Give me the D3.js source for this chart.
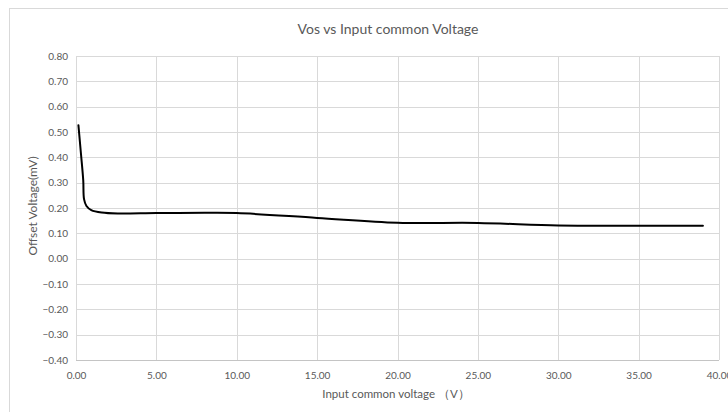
<!DOCTYPE html>
<html>
<head>
<meta charset="utf-8">
<script src="https://cdn.jsdelivr.net/npm/d3@7/dist/d3.min.js"></script>
<style>
  html, body { margin: 0; padding: 0; background: #ffffff; }
  svg { display: block; }
  text { font-family: Lato, "Open Sans", sans-serif; }
</style>
</head>
<body>
<script>
// ---- data ----
const titleText = "Vos vs Input common Voltage";
const xTitle = "Input common voltage （V）";
const yTitle = "Offset Voltage(mV)";
const xTicks = [0, 5, 10, 15, 20, 25, 30, 35, 40];
const yTicks = [-0.4, -0.3, -0.2, -0.1, 0, 0.1, 0.2, 0.3, 0.4, 0.5, 0.6, 0.7, 0.8];
const vcm = [0.15, 0.3, 0.45, 0.5, 0.65, 0.95, 1.6, 2.6, 5, 8, 10, 15, 20, 25, 30, 35, 39];
const vos = [0.527, 0.42, 0.31, 0.235, 0.208, 0.192, 0.182, 0.178, 0.18, 0.181, 0.18, 0.161, 0.142, 0.141, 0.131, 0.13, 0.13];

const W = 728, H = 412;
const svg = d3.select("body").append("svg").attr("width", W).attr("height", H);
svg.append("rect").attr("width", W).attr("height", H).attr("fill", "#fff");

// chart frame
svg.append("rect").attr("x", 9.5).attr("y", 8.5).attr("width", 740).attr("height", 420)
  .attr("fill", "none").attr("stroke", "#d9d9d9").attr("stroke-width", 1);

const x = d3.scaleLinear().domain([0, 40]).range([76, 719]);
const y = d3.scaleLinear().domain([-0.4, 0.8]).range([360, 56]);

// gridlines via axes
const gy = svg.append("g").attr("transform", `translate(${x(0)},0)`)
  .call(d3.axisLeft(y).tickValues(yTicks).tickSize(-(x(40) - x(0))).tickFormat(d3.format(".2f")).tickPadding(8));
gy.select(".domain").remove();
gy.selectAll("line").attr("stroke", "#d9d9d9").attr("shape-rendering", "crispEdges");
gy.selectAll("text").attr("fill", "#595959").style("font-size", "10px");

const gx = svg.append("g").attr("transform", `translate(0,${y(-0.4)})`)
  .call(d3.axisBottom(x).tickValues(xTicks).tickSize(-(y(-0.4) - y(0.8))).tickFormat(d3.format(".2f")).tickPadding(12));
gx.select(".domain").remove();
gx.selectAll("line").attr("stroke", "#d9d9d9").attr("shape-rendering", "crispEdges");
gx.selectAll("text").attr("fill", "#595959").style("font-size", "10px");

// bottom axis line
svg.append("line").attr("x1", x(0)).attr("x2", x(40)).attr("y1", y(-0.4)).attr("y2", y(-0.4))
  .attr("stroke", "#c4c4c4").attr("shape-rendering", "crispEdges");

// curve
const pts = vcm.map((v, i) => [v, vos[i]]);
svg.append("path").datum(pts)
  .attr("d", d3.line().x(d => x(d[0])).y(d => y(d[1])).curve(d3.curveCatmullRom.alpha(0.5)))
  .attr("fill", "none").attr("stroke", "#000").attr("stroke-width", 2)
  .attr("stroke-linejoin", "round").attr("stroke-linecap", "round");

// titles
svg.append("text").attr("x", 388).attr("y", 34).attr("text-anchor", "middle")
  .attr("fill", "#595959").style("font-size", "14px").text(titleText);
svg.append("text").attr("x", 396).attr("y", 398).attr("text-anchor", "middle")
  .attr("fill", "#595959").style("font-size", "11.5px").text(xTitle);
svg.append("text").attr("transform", `translate(37,206) rotate(-90)`).attr("text-anchor", "middle")
  .attr("fill", "#595959").style("font-size", "12px").text(yTitle);
</script>
</body>
</html>
